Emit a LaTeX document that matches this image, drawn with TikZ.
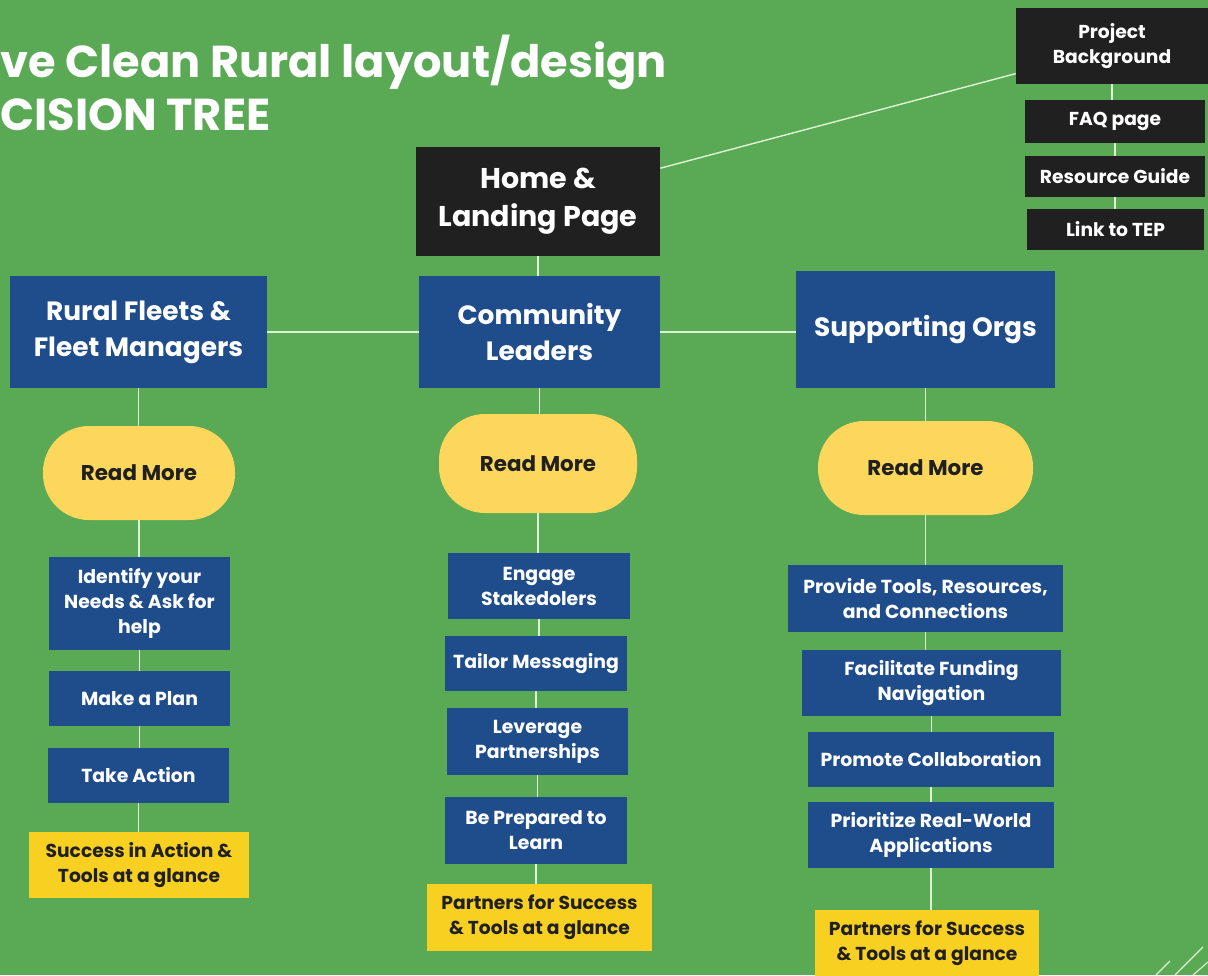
\documentclass[tikz,border=0pt]{standalone}
\usepackage{fontspec}
\setmainfont{Poppins}
\usepackage{tikz}

\definecolor{bggreen}{RGB}{90,169,85}
\definecolor{navy}{RGB}{31,77,140}
\definecolor{ink}{RGB}{32,32,32}
\definecolor{ovalyellow}{RGB}{252,215,92}
\definecolor{tagyellow}{RGB}{248,208,34}
\definecolor{wire}{RGB}{222,242,212}

\newcommand\pxu{0.025cm}

\begin{document}
\begin{tikzpicture}[x=0.025cm,y=-0.025cm,
    box/.style={rectangle,inner sep=0pt,align=center,font=\bfseries},
    inkbox/.style={box,fill=ink,text=white},
    catbox/.style={box,fill=navy,text=white,font=\bfseries\fontsize{18.8}{25.5}\selectfont},
    stepbox/.style={box,fill=navy,text=white,font=\bfseries\fontsize{13.4}{17.8}\selectfont},
    readmore/.style={box,fill=ovalyellow,text=ink,rounded corners=46*\pxu,font=\bfseries\fontsize{15.2}{18}\selectfont},
    tagbox/.style={box,fill=tagyellow,text=ink,font=\bfseries\fontsize{13.3}{17.8}\selectfont},
    wired/.style={draw=wire,line width=1pt}]

\useasboundingbox (0,0) rectangle (1208,975);
\clip (0,0) rectangle (1208,975);
\fill[bggreen] (0,0) rectangle (1208,975);

% title
\node[anchor=base west,text=white,font=\bfseries\fontsize{31.8}{38}\selectfont,inner sep=0pt] (title1) at (0,77) {ve Clean Rural layout/design};
\node[anchor=base west,text=white,font=\bfseries\fontsize{31.8}{38}\selectfont,inner sep=0pt] (title2) at (0,130) {CISION TREE};

% top nodes
\node[inkbox,minimum width=244*\pxu,minimum height=109*\pxu,font=\bfseries\fontsize{20.3}{27}\selectfont] (home) at (538,201) {Home \&\\Landing Page};

\node[inkbox,minimum width=192*\pxu,minimum height=76*\pxu,font=\bfseries\fontsize{13.3}{17.8}\selectfont] (projbg) at (1112,46) {Project\\Background};
\node[inkbox,minimum width=180*\pxu,minimum height=43*\pxu,font=\bfseries\fontsize{13.3}{17.8}\selectfont] (faq) at (1115,121.5) {FAQ page};
\node[inkbox,minimum width=180*\pxu,minimum height=41*\pxu,font=\bfseries\fontsize{13.3}{17.8}\selectfont] (resguide) at (1115,176.5) {Resource Guide};
\node[inkbox,minimum width=177*\pxu,minimum height=41*\pxu,font=\bfseries\fontsize{13.3}{17.8}\selectfont] (teplink) at (1115.5,229.5) {Link to TEP};

\node[catbox,minimum width=257*\pxu,minimum height=112*\pxu] (fleets) at (138.5,332) {Rural Fleets \&\\Fleet Managers};
\node[catbox,minimum width=241*\pxu,minimum height=112*\pxu] (community) at (539.5,332) {Community\\Leaders};
\node[catbox,minimum width=259*\pxu,minimum height=117*\pxu] (orgs) at (925.5,329.5) {Supporting Orgs};

\node[readmore,minimum width=192*\pxu,minimum height=94*\pxu] (rm1) at (139,473) {Read More};
\node[readmore,minimum width=198*\pxu,minimum height=99*\pxu] (rm2) at (538,463.5) {Read More};
\node[readmore,minimum width=215*\pxu,minimum height=94*\pxu] (rm3) at (925.5,468) {Read More};

% left column
\node[stepbox,minimum width=181*\pxu,minimum height=93*\pxu] (identify) at (139.5,603.5) {Identify your\\Needs \& Ask for\\help};
\node[stepbox,minimum width=181*\pxu,minimum height=55*\pxu] (plan) at (139.5,698.5) {Make a Plan};
\node[stepbox,minimum width=181*\pxu,minimum height=55*\pxu] (action) at (138.5,775.5) {Take Action};
\node[tagbox,minimum width=220*\pxu,minimum height=66*\pxu] (success) at (139,865) {Success in Action \&\\Tools at a glance};

% middle column
\node[stepbox,minimum width=182*\pxu,minimum height=66*\pxu] (engage) at (539,586) {Engage\\Stakedolers};
\node[stepbox,minimum width=182*\pxu,minimum height=55*\pxu] (tailor) at (536,663.5) {Tailor Messaging};
\node[stepbox,minimum width=181*\pxu,minimum height=67*\pxu] (leverage) at (537.5,741.5) {Leverage\\Partnerships};
\node[stepbox,minimum width=182*\pxu,minimum height=67*\pxu] (prepared) at (536,830.5) {Be Prepared to\\Learn};
\node[tagbox,minimum width=225*\pxu,minimum height=67*\pxu] (partnersA) at (539.5,917.5) {Partners for Success\\\& Tools at a glance};

% right column
\node[stepbox,minimum width=275*\pxu,minimum height=67*\pxu] (provide) at (925.5,598.5) {Provide Tools, Resources,\\and Connections};
\node[stepbox,minimum width=259*\pxu,minimum height=66*\pxu] (funding) at (931.5,683) {Facilitate Funding\\Navigation};
\node[stepbox,minimum width=246*\pxu,minimum height=55*\pxu] (collab) at (931,759.5) {Promote Collaboration};
\node[stepbox,minimum width=246*\pxu,minimum height=66*\pxu] (prioritize) at (931,835) {Prioritize Real-World\\Applications};
\node[tagbox,minimum width=224*\pxu,minimum height=66*\pxu] (partnersB) at (927,943) {Partners for Success\\\& Tools at a glance};

% connectors
\draw[wired] (home.15) -- (projbg.196);
\foreach \a/\b in {projbg/faq,faq/resguide,resguide/teplink,home/community,
    fleets/rm1,rm1/identify,identify/plan,plan/action,action/success,
    community/rm2,rm2/engage,engage/tailor,tailor/leverage,leverage/prepared,prepared/partnersA,
    orgs/rm3,rm3/provide,provide/funding,funding/collab,collab/prioritize,prioritize/partnersB}
    \draw[wired] (\a.south) -- (\a.south |- \b.north);
\draw[wired] (fleets.east) -- (community.west);
\draw[wired] (community.east) -- (community.east -| orgs.west);

% corner stripes
\draw[wire,line width=0.8pt] (1156,975) -- (1170,961);
\draw[wire,line width=0.8pt] (1175,975) -- (1203,947);
\draw[wire,line width=0.8pt] (1193,975) -- (1208,962);

\end{tikzpicture}
\end{document}
